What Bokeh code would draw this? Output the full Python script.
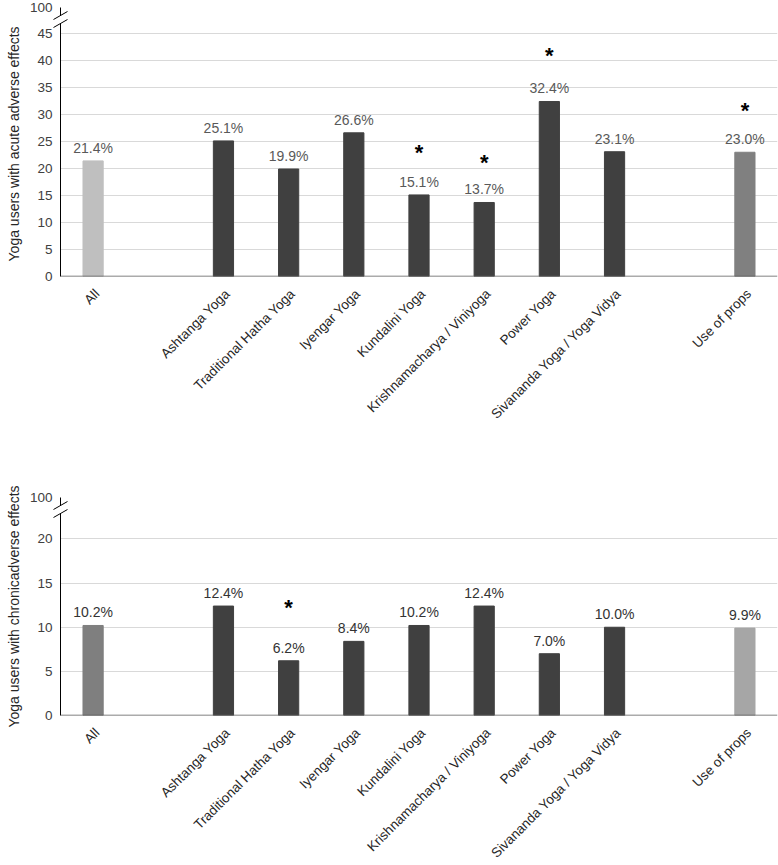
from math import pi
from bokeh.plotting import figure
from bokeh.layouts import column
from bokeh.models import FactorRange, Range1d, FixedTicker, ColumnDataSource, Span
from bokeh.core.properties import value
from bokeh.embed import file_html
from bokeh.resources import INLINE

# ---------------- data ----------------
categories = ["All", "Ashtanga Yoga", "Traditional Hatha Yoga", "Iyengar Yoga",
              "Kundalini Yoga", "Krishnamacharya / Viniyoga", "Power Yoga",
              "Sivananda Yoga / Yoga Vidya", "Use of props"]
acute_values = [21.4, 25.1, 19.9, 26.6, 15.1, 13.7, 32.4, 23.1, 23.0]
chronic_values = [10.2, 12.4, 6.2, 8.4, 10.2, 12.4, 7.0, 10.0, 9.9]
acute_sig = ["Kundalini Yoga", "Krishnamacharya / Viniyoga", "Power Yoga", "Use of props"]
acute_sig_height = [23.3, 21.5, 41.3, 31.1]
chronic_sig = ["Traditional Hatha Yoga"]
chronic_sig_height = [12.5]
acute_ticks = [0, 5, 10, 15, 20, 25, 30, 35, 40, 45]
chronic_ticks = [0, 5, 10, 15, 20]
break_label = "100"

acute_colors = ["#bfbfbf"] + ["#404040"] * 7 + ["#808080"]
chronic_colors = ["#7f7f7f"] + ["#404040"] * 7 + ["#a6a6a6"]

# factor list with two blank slots (gaps)
factors = [categories[0], " "] + categories[1:8] + ["  ", categories[8]]

FONT = "Liberation Sans"


def make_panel(vals, colors, sig, sig_h, ticks, top, height, border_top, border_bottom,
               ylabel, label_color):
    p = figure(x_range=FactorRange(factors=factors, range_padding=0),
               y_range=Range1d(0, top),
               width=778, height=height, x_axis_location=None,
               min_border_left=60, min_border_right=1, min_border_top=border_top,
               min_border_bottom=border_bottom,
               output_backend="svg", toolbar_location=None)
    p.outline_line_color = None
    p.background_fill_color = "white"

    p.xgrid.grid_line_color = None
    p.ygrid.grid_line_color = "#d9d9d9"
    p.ygrid.grid_line_width = 1

    src = ColumnDataSource(dict(x=categories, top=vals, color=colors,
                                lab=[f"{v:.1f}%" for v in vals],
                                zero=[0] * len(categories)))
    p.vbar(x="x", top="top", width=0.31, color="color", source=src)
    p.text(x="x", y="top", text="lab", source=src, text_align="center",
           text_baseline="bottom", y_offset=-5, text_font=value(FONT),
           text_font_size="14px", text_color=label_color)
    p.text(x=sig, y=sig_h, text=["*"] * len(sig), text_align="center",
           text_baseline="middle", y_offset=2, text_font=value(FONT),
           text_font_size="22px", text_font_style="bold", text_color="black")

    # x axis line
    p.add_layout(Span(location=0, dimension="width", line_color="#595959",
                      line_width=1.5))

    # rotated category labels under the axis
    p.text(x="x", y="zero", text="x", source=src, angle=pi / 4,
           text_align="right", text_baseline="middle", x_offset=4, y_offset=15,
           text_font=value(FONT), text_font_size="13.5px", text_color="#262626",
           level="overlay")

    # y axis
    p.yaxis.ticker = FixedTicker(ticks=ticks + [top])
    p.yaxis.major_label_overrides = {top: break_label}
    p.yaxis.major_tick_out = 0
    p.yaxis.major_tick_in = 0
    p.yaxis.minor_tick_line_color = None
    p.yaxis.axis_line_color = "black"
    p.yaxis.major_label_text_font = FONT
    p.yaxis.major_label_text_font_size = "13.5px"
    p.yaxis.major_label_text_color = "#404040"
    p.yaxis.major_label_standoff = 8
    p.yaxis.axis_label = ylabel
    p.yaxis.axis_label_text_font = FONT
    p.yaxis.axis_label_text_font_size = "14px"
    p.yaxis.axis_label_text_font_style = "normal"
    p.yaxis.axis_label_text_color = "#262626"
    p.yaxis.axis_label_standoff = 5

    # axis break marks near the top of the y axis (decoration)
    frame_h = height - border_top - border_bottom
    ppu = frame_h / top
    yc = top - 12 / ppu
    dx = 7 / 65.2
    dy = 4 / ppu
    gap = 4 / ppu
    p.patch(x=[-dx, dx, dx, -dx], y=[yc - dy - gap, yc + dy - gap, yc + dy + gap, yc - dy + gap],
            fill_color="white", line_color=None, level="overlay")
    p.segment(x0=[-dx, -dx], y0=[yc - dy - gap, yc - dy + gap],
              x1=[dx, dx], y1=[yc + dy - gap, yc + dy + gap],
              line_color="black", line_width=1, level="overlay")
    return p


top_p = make_panel(acute_values, acute_colors, acute_sig, acute_sig_height,
                   acute_ticks, 49.8, 477, 7, 201,
                   "Yoga users  with acute adverse effects", "#595959")
bot_p = make_panel(chronic_values, chronic_colors, chronic_sig, chronic_sig_height,
                   chronic_ticks, 24.7, 388, 20, 150,
                   "Yoga users with chronicadverse effects", "#333333")

layout = column(top_p, bot_p)
open("out.html", "w").write(file_html(layout, INLINE))
